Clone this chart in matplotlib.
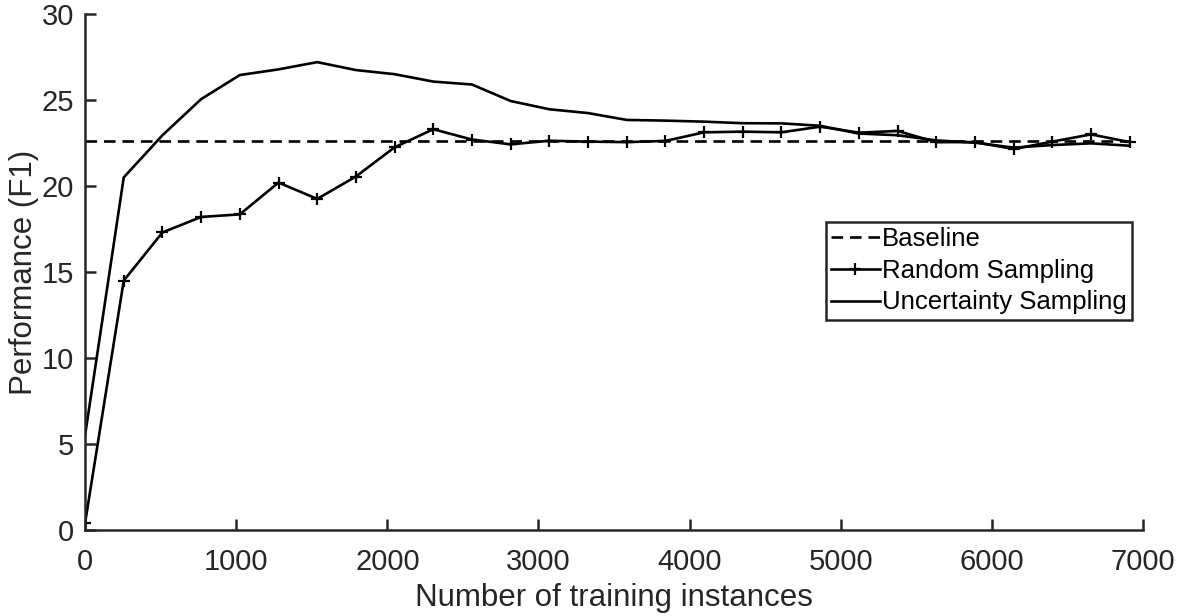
import matplotlib
matplotlib.use("Agg")
import matplotlib.pyplot as plt
import numpy as np

plt.rcParams['font.family'] = ['Liberation Sans', 'DejaVu Sans']

# Data
instances = [0, 256, 512, 768, 1024, 1280, 1536, 1792, 2048, 2304, 2560, 2816, 3072, 3328,
             3584, 3840, 4096, 4352, 4608, 4864, 5120, 5376, 5632, 5888, 6144, 6400, 6656, 6912]
baseline_value = 22.6
random_sampling = [0.4, 14.5, 17.3, 18.2, 18.35, 20.2, 19.25, 20.55, 22.25, 23.3, 22.7, 22.42,
                   22.63, 22.58, 22.55, 22.62, 23.12, 23.16, 23.12, 23.45, 23.1, 23.2, 22.55,
                   22.55, 22.15, 22.58, 23.0, 22.55]
uncertainty_sampling = [5.5, 20.5, 22.95, 25.05, 26.45, 26.78, 27.2, 26.74, 26.5, 26.07, 25.9,
                        24.94, 24.46, 24.24, 23.84, 23.8, 23.74, 23.65, 23.64, 23.5, 23.05,
                        22.95, 22.65, 22.52, 22.23, 22.38, 22.48, 22.34]
x_ticks = [0, 1000, 2000, 3000, 4000, 5000, 6000, 7000]
y_ticks = [0, 5, 10, 15, 20, 25, 30]

axis_color = '#262626'

fig = plt.figure(figsize=(11.83, 6.16), dpi=100)
ax = fig.add_axes([0.0719, 0.1396, 0.8943, 0.8377])

lw = 1.9
ax.plot([instances[0], instances[-1]], [baseline_value, baseline_value], color='black',
        linestyle=(0, (4.4, 2.6)), linewidth=lw, label='Baseline')
ax.plot(instances, random_sampling, color='black', linewidth=lw, marker='+',
        markersize=8, markeredgewidth=1.6, label='Random Sampling')
ax.plot(instances, uncertainty_sampling, color='black', linewidth=lw,
        label='Uncertainty Sampling')

ax.set_xlim(0, 7000)
ax.set_ylim(0, 30)
ax.set_xticks(x_ticks)
ax.set_yticks(y_ticks)

for s in ['top', 'right']:
    ax.spines[s].set_visible(False)
for s in ['left', 'bottom']:
    ax.spines[s].set_color(axis_color)
    ax.spines[s].set_linewidth(1.8)

ax.tick_params(direction='in', length=8, width=1.8, colors=axis_color, labelsize=21)
ax.tick_params(axis='x', pad=13)
ax.tick_params(axis='y', pad=8)

ax.set_xlabel('Number of training instances', fontsize=22.5, color=axis_color, labelpad=5)
ax.set_ylabel('Performance (F1)', fontsize=22.5, color=axis_color, labelpad=2)

leg = ax.legend(loc='upper left', bbox_to_anchor=(0.700, 0.597), fontsize=18.5,
                frameon=True, fancybox=False, edgecolor=axis_color, framealpha=1,
                handlelength=1.9, handletextpad=0.1, borderpad=0.2, labelspacing=0.3,
                borderaxespad=0)
leg.get_frame().set_linewidth(1.8)

fig.savefig('out.png', dpi=100)
